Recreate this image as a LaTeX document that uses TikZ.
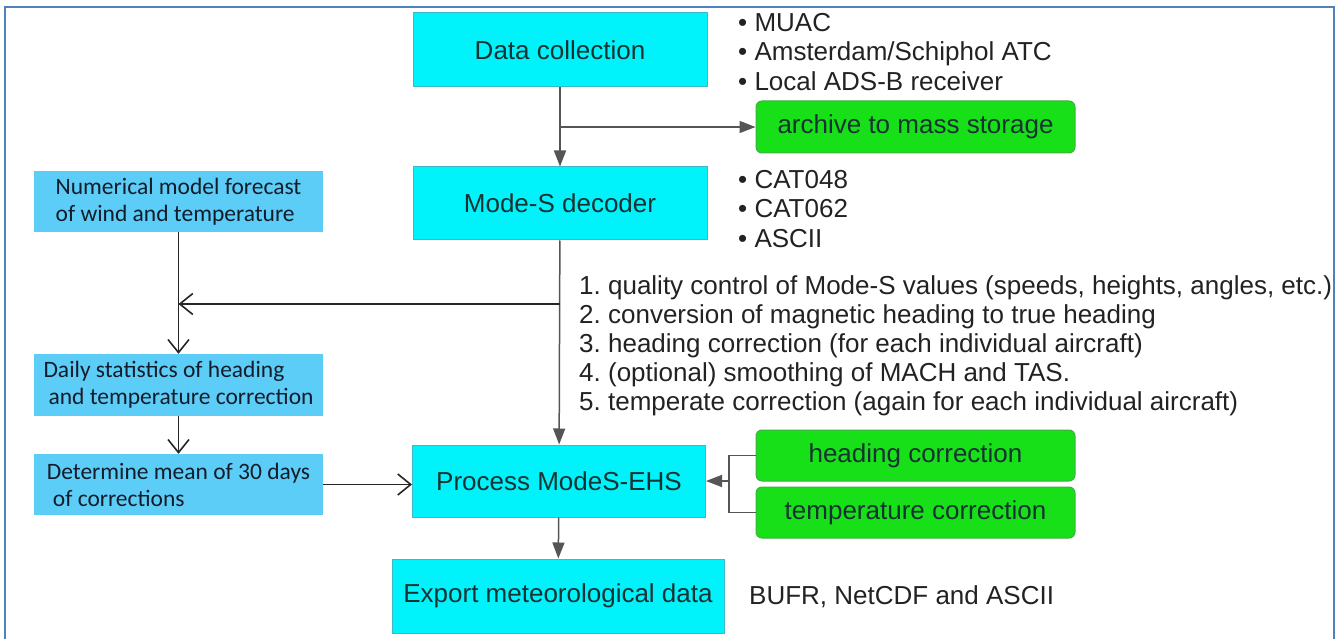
\documentclass[tikz,border=0pt]{standalone}
\usepackage{fontspec}
\setmainfont{Liberation Sans}
\newfontfamily\calibri{Carlito}
\usepackage{tikz}
\usetikzlibrary{arrows.meta,calc}
\frenchspacing
\definecolor{frameblue}{HTML}{4F81BD}
\definecolor{cyanfill}{HTML}{00F2FA}
\definecolor{cyanedge}{HTML}{3DB9CC}
\definecolor{lightblue}{HTML}{5BCDF6}
\definecolor{greenfill}{HTML}{18E018}
\definecolor{greenedge}{HTML}{3FAF3F}
\definecolor{boxtext}{HTML}{163232}
\definecolor{navytext}{HTML}{141C2C}
\definecolor{listtext}{HTML}{222222}
\definecolor{linegray}{HTML}{555555}
\tikzset{
  cybox/.style={draw=cyanedge, fill=cyanfill, line width=1pt, text=boxtext,
    font=\fontsize{26}{29}\selectfont, inner sep=0pt},
  lbbox/.style={fill=lightblue, text=navytext, align=left, inner sep=0pt,
    minimum width=289pt, font=\calibri\fontsize{23.5}{27}\selectfont},
  grbox/.style={draw=greenedge, fill=greenfill, line width=1pt, rounded corners=6pt,
    text=boxtext, minimum width=319pt, inner sep=0pt, font=\fontsize{26}{29}\selectfont},
  labr/.style={text=listtext, align=left, inner sep=0pt, anchor=west,
    font=\fontsize{26}{29.5}\selectfont},
  flow/.style={draw=linegray, line width=1.5pt, -{Triangle[length=16pt,width=12pt]}},
  feed/.style={draw=black!85, line width=1.8pt, -{Straight Barb[length=13pt,width=21pt,line width=1.6pt]}},
  frame/.style={draw=frameblue, line width=2pt}
}

\begin{document}
\begin{tikzpicture}[x=1pt,y=-1pt]
  \useasboundingbox (0,0) rectangle (1339,639);
  \draw[frame] (4.5,7) rectangle (1334,680);

  % main chain
  \node[cybox, minimum width=294pt, minimum height=74pt] (dc) at (560,50) {Data collection};
  \node[cybox, minimum width=294pt, minimum height=73pt] (msd) at (560,203.5) {Mode-S decoder};
  \node[cybox, minimum width=293pt, minimum height=72pt] (pms) at (559,481) {Process ModeS-EHS};
  \node[cybox, minimum width=332pt, minimum height=74pt] (exp) at (558,596) {Export meteorological data};

  % green boxes
  \node[grbox, minimum height=52pt] (arch) at (915.5,127) {archive to mass storage};
  \node[grbox, minimum height=51pt] (hc) at (915.5,455.5) {heading correction};
  \node[grbox, minimum height=51pt] (tc) at (915.5,512.5) {temperature correction};

  % left column
  \node[lbbox, minimum height=61pt] (nmf) at (178.5,201.5) {Numerical model forecast\\of wind and temperature};
  \node[lbbox, minimum height=62pt] (dst) at (178.5,385) {Daily statistics of heading\\\hspace{5pt}and temperature correction};
  \node[lbbox, minimum height=61pt] (dmn) at (178.5,484.5) {Determine mean of 30 days\\\hspace{6pt}of corrections};

  % texts beside the chain
  \node[labr] (src) at (738,52) {\textbullet\ MUAC\\\textbullet\ Amsterdam/Schiphol ATC\\\textbullet\ Local ADS-B receiver};
  \node[labr] (fmt) at (738,209) {\textbullet\ CAT048\\\textbullet\ CAT062\\\textbullet\ ASCII};
  \node[labr, font=\fontsize{26}{29}\selectfont] (steps) at (579,346) {1. quality control of Mode-S values (speeds, heights, angles, etc.)\\
    2. conversion of magnetic heading to true heading\\
    3. heading correction (for each individual aircraft)\\
    4. (optional) smoothing of MACH and TAS.\\
    5. temperate correction (again for each individual aircraft)};
  \node[labr] (out) at (749,597) {BUFR, NetCDF and ASCII};

  % connectors
  \coordinate (split) at (dc.south |- arch.west);
  \coordinate (tap) at (560,304);
  \coordinate (join) at (nmf.south |- tap);
  \coordinate (brk) at (729,481);

  \draw[flow] (dc) -- (msd);
  \draw[flow] (split) -- (arch.west);
  \draw[flow] (msd) -- (pms);
  \draw[flow] (pms) -- (exp);
  \draw[draw=linegray, line width=1.5pt] (hc.west) -| (brk) |- (tc.west);
  \draw[flow] (brk) -- (pms.east);

  \draw[feed] (tap) -- (join);
  \draw[feed] (nmf) -- (dst);
  \draw[feed] (dst) -- (dmn);
  \draw[feed] (dmn.east) -- (dmn.east -| pms.west);
\end{tikzpicture}
\end{document}
